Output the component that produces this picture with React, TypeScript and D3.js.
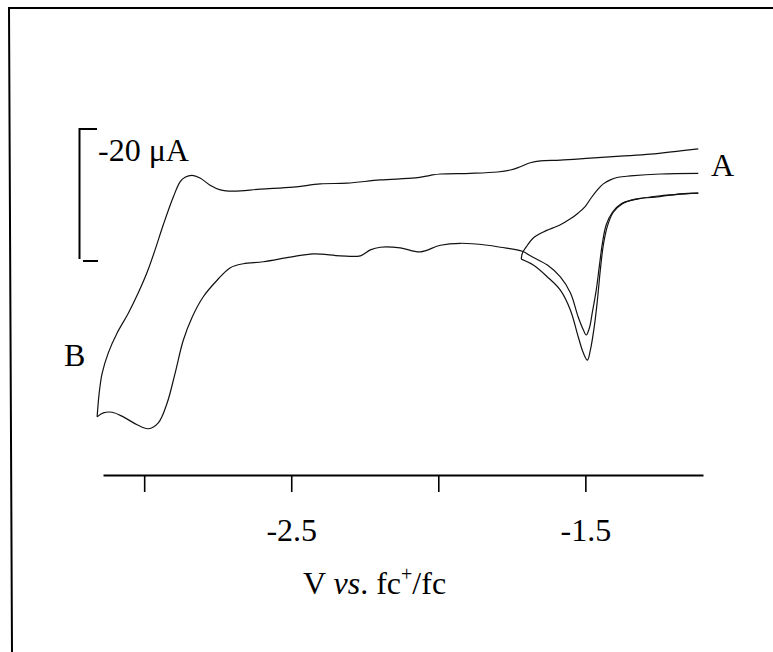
import React, { useEffect, useRef } from 'react';
import { select, scaleLinear, line, curveCatmullRom, axisBottom } from 'd3';

// [potential V vs fc+/fc, current µA] — anodic positive, drawn downward
const scanBForward: [number, number][] = [
  [-1.116, -8.5], [-1.177, -8.2], [-1.279, -7.7], [-1.381, -7.4], [-1.483, -7.1], [-1.585, -6.8],
  [-1.653, -6.7], [-1.687, -6.4], [-1.721, -5.8], [-1.755, -5.3], [-1.799, -5.0], [-1.891, -4.8],
  [-1.993, -4.7], [-2.027, -4.5], [-2.078, -4.1], [-2.197, -3.8], [-2.310, -3.3], [-2.401, -3.2],
  [-2.493, -2.7], [-2.605, -2.4], [-2.697, -2.1], [-2.741, -2.3], [-2.776, -3.0], [-2.810, -4.1],
  [-2.837, -4.5], [-2.861, -4.2], [-2.878, -3.5], [-2.901, -1.2], [-2.935, 3.0], [-2.963, 6.8],
  [-2.990, 10.2], [-3.020, 13.3], [-3.054, 16.4], [-3.092, 19.4], [-3.122, 22.4],
  [-3.143, 25.5], [-3.153, 28.5], [-3.160, 32.1],
];

const scanBReverse: [number, number][] = [
  [-3.160, 32.1], [-3.139, 31.5], [-3.109, 31.4], [-3.071, 32.1], [-3.024, 33.3], [-2.986, 33.9],
  [-2.952, 33.0], [-2.922, 30.0], [-2.895, 25.5], [-2.867, 20.5], [-2.837, 17.0], [-2.799, 13.9],
  [-2.752, 11.4], [-2.707, 9.5], [-2.663, 8.9], [-2.595, 8.6], [-2.503, 7.9], [-2.425, 7.4],
  [-2.333, 7.7], [-2.265, 7.7], [-2.231, 6.8], [-2.197, 6.4], [-2.129, 6.5], [-2.061, 7.1],
  [-1.993, 6.1], [-1.925, 5.8], [-1.833, 6.1], [-1.789, 6.4], [-1.714, 7.0], [-1.687, 7.7],
  [-1.629, 9.1], [-1.585, 10.9], [-1.551, 13.3], [-1.524, 17.0], [-1.507, 18.9], [-1.497, 19.7],
  [-1.486, 18.6], [-1.476, 16.2], [-1.463, 12.9], [-1.452, 9.1], [-1.442, 5.8], [-1.429, 3.0],
  [-1.408, 1.1], [-1.378, -0.2], [-1.323, -0.9], [-1.245, -1.4], [-1.116, -1.8],
];

const scanAForward: [number, number][] = [
  [-1.116, -4.8], [-1.245, -4.7], [-1.347, -4.4], [-1.388, -4.2], [-1.415, -3.8], [-1.439, -3.2],
  [-1.459, -2.3], [-1.480, -1.1], [-1.500, 0.2], [-1.524, 1.2], [-1.551, 2.1], [-1.585, 3.0],
  [-1.643, 4.1], [-1.677, 5.0], [-1.697, 6.1], [-1.714, 7.3], [-1.718, 8.2],
];

const scanAReverse: [number, number][] = [
  [-1.718, 8.2], [-1.677, 9.1], [-1.629, 10.9], [-1.585, 12.9], [-1.551, 15.9], [-1.524, 20.0],
  [-1.507, 22.4], [-1.493, 23.5], [-1.483, 22.0], [-1.469, 18.2], [-1.459, 14.4], [-1.449, 9.8],
  [-1.439, 6.1], [-1.425, 3.2], [-1.405, 1.1], [-1.374, -0.2], [-1.330, -0.9], [-1.262, -1.2],
  [-1.177, -1.7], [-1.116, -1.8],
];

const xTicks = [-3, -2.5, -2, -1.5];
const xTickLabels = ['', '-2.5', '', '-1.5'];
const scaleBarTop = -11.5; // µA
const scaleBarSpan = 20; // µA

const FONT = '"Liberation Serif", "Times New Roman", serif';

function App() {
  const svgRef = useRef<SVGSVGElement>(null);

  useEffect(() => {
    const svg = select(svgRef.current);
    const xScale = scaleLinear().domain([-3.14, -1.1]).range([103, 703]);
    const yScale = scaleLinear().domain([-20, 40]).range([73, 469]);

    const xAxis = axisBottom(xScale)
      .tickValues(xTicks)
      .tickFormat((d, i) => xTickLabels[i])
      .tickSizeInner(17)
      .tickSizeOuter(0)
      .tickPadding(26);
    const ax = svg.select<SVGGElement>('.x-axis')
      .attr('transform', 'translate(0,475)')
      .call(xAxis);
    ax.select('.domain').attr('stroke', '#000').attr('stroke-width', 2);
    ax.selectAll('.tick line').attr('stroke', '#000').attr('stroke-width', 1.6);
    ax.selectAll('.tick text')
      .attr('fill', '#000')
      .style('font-family', FONT)
      .style('font-size', '32px');

    const cv = line<[number, number]>()
      .x((d) => xScale(d[0]))
      .y((d) => yScale(d[1]))
      .curve(curveCatmullRom.alpha(0.5));

    svg.select('.curves')
      .selectAll('path')
      .data([scanBForward, scanBReverse, scanAForward, scanAReverse])
      .join('path')
      .attr('d', cv)
      .attr('fill', 'none')
      .attr('stroke', '#111')
      .attr('stroke-width', 1.2);

    // current scale bar
    const y0 = yScale(scaleBarTop);
    const y1 = yScale(scaleBarTop + scaleBarSpan);
    svg.select('.scale-bar')
      .attr('d', `M97,${y0}H79.5V${y1 - 2}M83,${y1}H98`)
      .attr('fill', 'none')
      .attr('stroke', '#000')
      .attr('stroke-width', 2);
  }, []);

  return (
    <svg
      ref={svgRef}
      width={773}
      height={652}
      style={{ position: 'absolute', left: 0, top: 0, background: '#fff' }}
      fontFamily={FONT}
    >
      <path d="M773,8H9L12,652" fill="none" stroke="#000" strokeWidth={2} />
      <g className="x-axis" />
      <g className="curves" />
      <path className="scale-bar" />
      <text x={98} y={161} fontSize={32}>-20 μA</text>
      <text x={711} y={176} fontSize={32}>A</text>
      <text x={64} y={366} fontSize={32}>B</text>
      <text x={303} y={594} fontSize={32}>
        V <tspan fontStyle="italic">vs</tspan>. fc
        <tspan fontSize={20} dy={-13}>+</tspan>
        <tspan dy={13}>/fc</tspan>
      </text>
    </svg>
  );
}

export default App;
